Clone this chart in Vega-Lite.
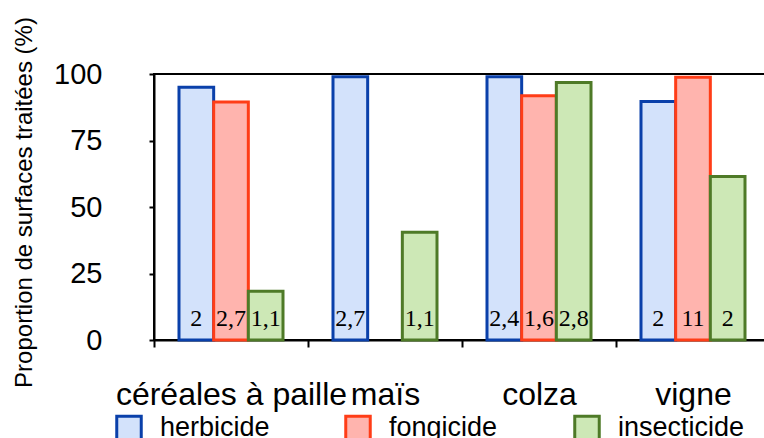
{
  "$schema": "https://vega.github.io/schema/vega-lite/v6.json",
  "autosize": {"type": "none"},
  "padding": {"left": 154, "top": 74, "right": -6, "bottom": 98},
  "width": 616,
  "height": 266,
  "background": "white",
  "config": {
    "view": {"stroke": "#000", "strokeWidth": 2},
    "axis": {
      "domainColor": "#000", "domainWidth": 2,
      "tickColor": "#000", "tickWidth": 2,
      "labelColor": "#000", "labelFont": "Liberation Sans",
      "titleColor": "#000", "titleFont": "Liberation Sans", "titleFontWeight": "normal",
      "grid": false
    },
    "legend": {
      "labelFont": "Liberation Sans", "labelColor": "#000"
    }
  },
  "data": {
    "values": [
      {"culture": "céréales à paille", "type": "herbicide", "pct": 95, "n": "2"},
      {"culture": "céréales à paille", "type": "fongicide", "pct": 89.5, "n": "2,7"},
      {"culture": "céréales à paille", "type": "insecticide", "pct": 18.3, "n": "1,1"},
      {"culture": "maïs", "type": "herbicide", "pct": 99, "n": "2,7"},
      {"culture": "maïs", "type": "insecticide", "pct": 40.5, "n": "1,1"},
      {"culture": "colza", "type": "herbicide", "pct": 99, "n": "2,4"},
      {"culture": "colza", "type": "fongicide", "pct": 91.8, "n": "1,6"},
      {"culture": "colza", "type": "insecticide", "pct": 96.8, "n": "2,8"},
      {"culture": "vigne", "type": "herbicide", "pct": 89.7, "n": "2"},
      {"culture": "vigne", "type": "fongicide", "pct": 98.8, "n": "11"},
      {"culture": "vigne", "type": "insecticide", "pct": 61.5, "n": "2"}
    ]
  },
  "encoding": {
    "x": {
      "field": "culture", "type": "nominal",
      "sort": ["céréales à paille", "maïs", "colza", "vigne"],
      "scale": {"paddingInner": 0, "paddingOuter": 0},
      "axis": {
        "title": null, "labelAngle": 0, "labelFontSize": 32,
        "labelLimit": 0, "labelOverlap": false, "labelBound": false,
        "tickBand": "extent", "tickSize": 7, "labelPadding": 32,
        "labelBaseline": "top"
      }
    },
    "xOffset": {
      "field": "type", "type": "nominal",
      "scale": {"domain": ["herbicide", "fongicide", "insecticide"], "paddingOuter": 0.721, "paddingInner": 0}
    },
    "y": {
      "field": "pct", "type": "quantitative",
      "scale": {"domain": [0, 100], "nice": false},
      "axis": {
        "values": [0, 25, 50, 75, 100],
        "title": "Proportion de surfaces traitées (%)",
        "titleFontSize": 24, "titleX": -130, "titleY": 128, "titleBaseline": "middle", "titleAngle": -90,
        "labelFontSize": 29, "labelPadding": 47, "tickSize": 5
      }
    }
  },
  "layer": [
    {
      "mark": {"type": "bar", "strokeWidth": 3},
      "encoding": {
        "fill": {
          "field": "type", "type": "nominal",
          "scale": {"domain": ["herbicide", "fongicide", "insecticide"], "range": ["#d3e2fb", "#ffb4ae", "#cde8b6"]},
          "legend": {
            "title": null, "orient": "none", "legendX": -39, "legendY": 340,
            "direction": "horizontal", "columns": 3, "gridAlign": "all", "columnPadding": 52,
            "labelFontSize": 27, "symbolType": "square", "symbolSize": 600, "symbolStrokeWidth": 3,
            "labelOffset": 17, "padding": 0
          }
        },
        "stroke": {
          "field": "type", "type": "nominal",
          "scale": {"domain": ["herbicide", "fongicide", "insecticide"], "range": ["#0a40aa", "#ff3d17", "#4e7a27"]}
        }
      }
    },
    {
      "mark": {"type": "text", "font": "Liberation Serif", "fontSize": 24, "baseline": "alphabetic", "dy": -14, "color": "#000"},
      "encoding": {
        "y": {"datum": 0},
        "text": {"field": "n"}
      }
    }
  ]
}
